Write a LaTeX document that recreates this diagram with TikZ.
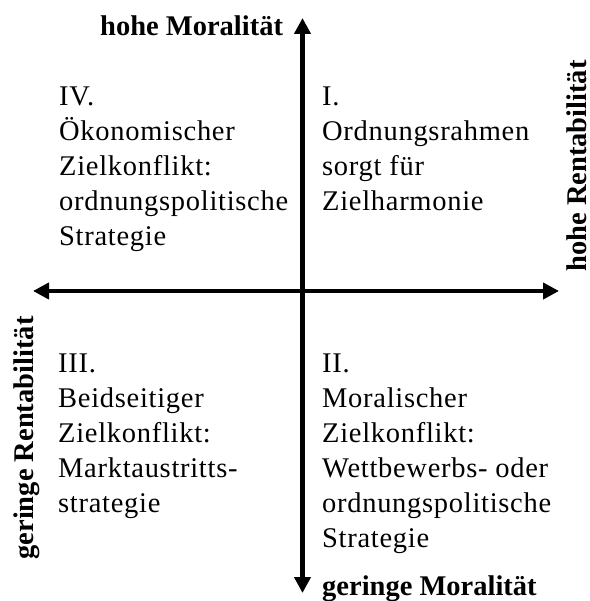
\documentclass[tikz,border=0pt]{standalone}
\usepackage{fontspec}
\setmainfont{Liberation Serif}
\newfontfamily\quadfont[LetterSpace=2.5]{Liberation Serif}
\usetikzlibrary{arrows.meta}
\tikzset{
  axisline/.style={line width=4.8pt,
    {Triangle[length=16pt,width=16pt]}-{Triangle[length=16pt,width=16pt]}},
  axislabel/.style={inner sep=0pt, font=\fontsize{28.5}{35}\selectfont\bfseries},
  quadtext/.style={inner sep=0pt, anchor=north west, align=left,
    font=\fontsize{28.5}{35}\selectfont\quadfont},
}
\begin{document}
\begin{tikzpicture}[x=1pt,y=-1pt]
  \useasboundingbox (0,0) rectangle (589,601);
  % axis end points
  \coordinate (top) at (302.5,18);
  \coordinate (bottom) at (302.5,593);
  \coordinate (left) at (33,291);
  \coordinate (right) at (559,291);
  \draw[axisline] (bottom) -- (top);
  \draw[axisline] (left) -- (right);
  % axis labels
  \node[axislabel, anchor=base west] (moralhigh) at (100,36) {hohe Moralität};
  \node[axislabel, anchor=base west] (morallow) at (322,595) {geringe Moralität};
  \node[axislabel, anchor=base, rotate=90] (renthigh) at (586,166) {hohe Rentabilität};
  \node[axislabel, anchor=base, rotate=90] (rentlow) at (33,438) {geringe Rentabilität};
  % quadrants
  \node[quadtext] (q4) at (59,87.1) {IV.\\Ökonomischer\\Zielkonflikt:\\ordnungspolitische\\Strategie};
  \node[quadtext] (q1) at (322,87.1) {I.\\Ordnungsrahmen\\sorgt für\\Zielharmonie};
  \node[quadtext] (q3) at (58,354.1) {III.\\Beidseitiger\\Zielkonflikt:\\Marktaustritts-\\strategie};
  \node[quadtext] (q2) at (322,354.1) {II.\\Moralischer\\Zielkonflikt:\\Wettbewerbs- oder\\ordnungspolitische\\Strategie};
\end{tikzpicture}
\end{document}
